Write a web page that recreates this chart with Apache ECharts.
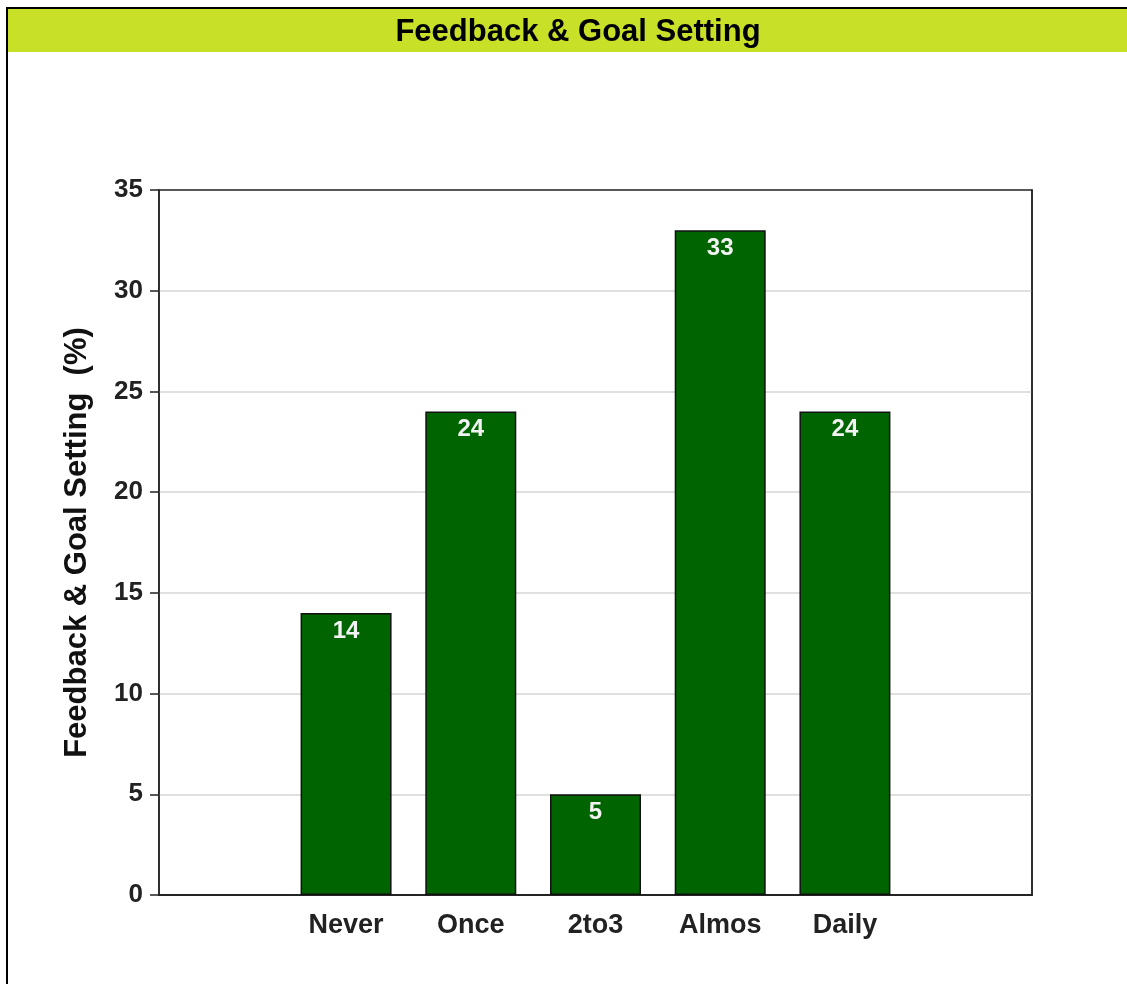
<!DOCTYPE html>
<html>
<head>
<meta charset="utf-8">
<script src="https://cdn.jsdelivr.net/npm/echarts@6/dist/echarts.min.js"></script>
<style>
html,body{margin:0;padding:0;background:#fff;}
#chart{width:1127px;height:984px;}
</style>
</head>
<body>
<div id="chart"></div>
<script>
const chartTitle = 'Feedback & Goal Setting';
const yAxisTitle = 'Feedback & Goal Setting  (%)';
const categories = ['', 'Never', 'Once', '2to3', 'Almos', 'Daily', ''];
const values = [null, 14, 24, 5, 33, 24, null];
const yTicks = { min: 0, max: 35, interval: 5 };

const FONT = '"Liberation Sans", Arial, Helvetica, sans-serif';
const chart = echarts.init(document.getElementById('chart'), null, { renderer: 'canvas' });
chart.setOption({
  animation: false,
  backgroundColor: '#ffffff',
  graphic: [
    { type: 'rect', left: 8, top: 9, shape: { width: 1119, height: 43 }, style: { fill: '#c8e028' }, z: 0 },
    { type: 'line', shape: { x1: 6, y1: 8, x2: 1127, y2: 8 }, style: { stroke: '#000', lineWidth: 2 } },
    { type: 'line', shape: { x1: 7, y1: 7, x2: 7, y2: 984 }, style: { stroke: '#000', lineWidth: 2 } }
  ],
  title: {
    text: chartTitle,
    left: 573, top: 12, textAlign: 'center',
    textStyle: { fontFamily: FONT, fontSize: 31, fontWeight: 'bold', color: '#000' }
  },
  grid: {
    left: 159, top: 190, right: 95, bottom: 89,
    show: true, borderColor: '#222', borderWidth: 1.5, backgroundColor: 'transparent'
  },
  xAxis: [{
    type: 'category',
    data: categories,
    axisLine: { lineStyle: { color: '#222', width: 1.5 } },
    axisTick: {
      alignWithLabel: true, length: 8,
      interval: function (i, v) { return v !== ''; },
      lineStyle: { color: '#222', width: 1.5 }
    },
    axisLabel: {
      interval: 0, margin: 17,
      fontFamily: FONT, fontSize: 27, fontWeight: 'bold', color: '#222'
    }
  }, {
    type: 'category',
    data: categories,
    position: 'top',
    axisLine: { show: true, lineStyle: { color: '#222', width: 1.5 } },
    axisTick: { show: false },
    axisLabel: { show: false }
  }],
  yAxis: [{
    type: 'value',
    min: yTicks.min, max: yTicks.max, interval: yTicks.interval,
    name: yAxisTitle,
    nameLocation: 'middle', nameGap: 66,
    nameTextStyle: { fontFamily: FONT, fontSize: 31, fontWeight: 'bold', color: '#111' },
    axisLine: { show: true, lineStyle: { color: '#222', width: 1.5 } },
    axisTick: { show: true, length: 9, lineStyle: { color: '#222', width: 1.5 } },
    axisLabel: { margin: 16, fontFamily: FONT, fontSize: 26, fontWeight: 'bold', color: '#222' },
    splitLine: { showMaxLine: false, showMinLine: false, lineStyle: { color: '#d6d6d6', width: 1.5 } }
  }, {
    type: 'value',
    min: yTicks.min, max: yTicks.max, interval: yTicks.interval,
    position: 'right',
    axisLine: { show: true, lineStyle: { color: '#222', width: 1.5 } },
    axisTick: { show: false },
    axisLabel: { show: false },
    splitLine: { show: false }
  }],
  series: [{
    type: 'bar',
    data: values,
    barWidth: 91,
    itemStyle: { color: '#006400', borderColor: '#111', borderWidth: 1.5 },
    label: {
      show: true, position: 'insideTop', distance: 6,
      fontFamily: FONT, fontSize: 24, fontWeight: 'bold', color: '#f2f2f2'
    }
  }]
});
</script>
</body>
</html>
